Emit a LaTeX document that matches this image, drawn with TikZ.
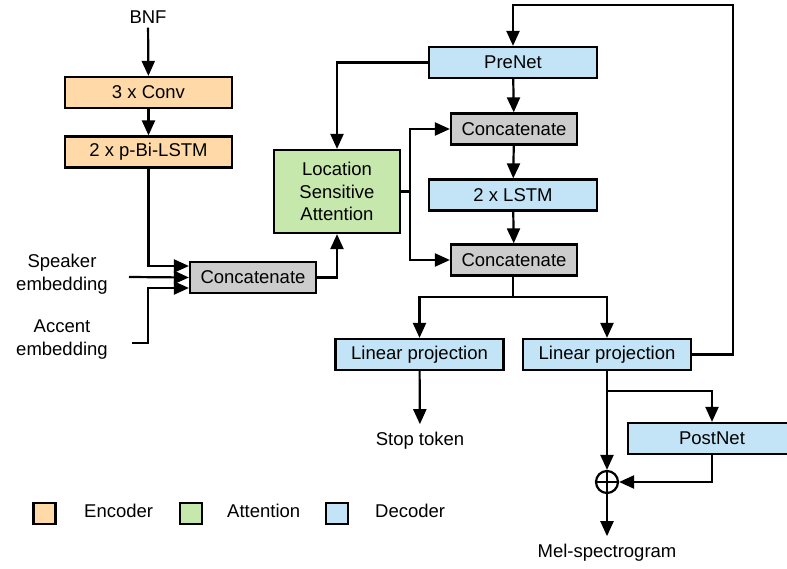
\documentclass[tikz,border=0pt]{standalone}
\usepackage{fontspec}
\setmainfont{Liberation Sans}
\usetikzlibrary{arrows.meta}
\definecolor{encC}{RGB}{255,218,168}
\definecolor{attC}{RGB}{199,232,172}
\definecolor{decC}{RGB}{194,228,246}
\definecolor{catC}{RGB}{204,204,204}
\tikzset{
  box/.style={draw, line width=2.2pt, inner sep=0pt, align=center, font=\fontsize{18.5}{22.5}\selectfont},
  enc/.style={box, fill=encC, minimum width=167pt, minimum height=31pt},
  dec/.style={box, fill=decC, minimum width=168pt, minimum height=31pt},
  cat/.style={box, fill=catC, minimum width=126pt, minimum height=31pt},
  att/.style={box, fill=attC, minimum width=126pt, minimum height=83pt},
  lbl/.style={inner sep=4pt, align=center, font=\fontsize{18.5}{23}\selectfont},
  legbox/.style={draw, line width=2.2pt, minimum width=22pt, minimum height=21pt, inner sep=0pt},
  arr/.style={line width=2.2pt, -{Triangle[length=15pt,width=13pt]}},
  ln/.style={line width=2.2pt}
}
\begin{document}
\begin{tikzpicture}[x=1pt,y=-1pt]
\useasboundingbox (0,0) rectangle (787,569);
% nodes
\node[lbl] (bnf) at (148,17) {BNF};
\node[enc] (conv) at (148.5,92.5) {3 x Conv};
\node[enc] (blstm) at (148.5,152) {2 x p-Bi-LSTM};
\node[cat] (catA) at (253,277.5) {Concatenate};
\node[att] (att) at (337,191.5) {Location\\Sensitive\\Attention};
\node[dec] (prenet) at (513,62.5) {PreNet};
\node[cat] (cat2) at (514,129) {Concatenate};
\node[dec] (lstm2) at (513,195) {2 x LSTM};
\node[cat] (cat3) at (514,260) {Concatenate};
\node[dec] (lp1) at (419.5,354.5) {Linear projection};
\node[dec] (lp2) at (607,354.5) {Linear projection};
\node[dec] (postnet) at (712,438.5) {PostNet};
\node[circle, draw, line width=2.2pt, minimum size=22pt, inner sep=0pt] (plus) at (607,482) {};
\draw[ln] (plus.north) -- (plus.south) (plus.west) -- (plus.east);
\node[lbl] (spk) at (62,274) {Speaker\\embedding};
\node[lbl] (acc) at (62,340) {Accent\\embedding};
\node[lbl, inner sep=8pt] (stop) at (420,441) {Stop token};
\node[lbl, inner sep=8pt] (mel) at (607,553) {Mel-spectrogram};
% coordinates
\coordinate (spkS) at (129,277);
\coordinate (accS) at (132,343);
\coordinate (split) at (513,297);
\coordinate (fbR) at (733,5);
\coordinate (br) at (607,391);
% encoder connectors
\draw[arr] (bnf) -- (conv);
\draw[arr] (conv) -- (blstm);
\draw[arr] (blstm.south) |- ([yshift=11.5pt]catA.west);
\draw[arr] (spkS) -- (catA.west);
\draw[arr] (accS) -- (148,343) |- ([yshift=-10.5pt]catA.west);
\draw[arr] (catA.east) -| (att.south);
% attention / decoder
\draw[arr] (prenet.west) -| (att.north);
\draw[arr] (att.east) -- ++(9,0) |- (cat2.west);
\draw[arr] (att.east) -- ++(9,0) |- (cat3.west);
\draw[arr] (prenet) -- (cat2);
\draw[arr] (cat2) -- (lstm2);
\draw[arr] (lstm2) -- (cat3);
\draw[ln] (cat3.south -| split) -- (split);
\draw[arr] (split) -| (lp1.north);
\draw[arr] (split) -| (lp2.north);
\draw[arr] (lp2.east) -| (fbR) -| (prenet.north);
\draw[arr] (lp1) -- (stop);
\draw[arr] (lp2) -- (plus);
\draw[arr] (br) -| (postnet.north);
\draw[arr] (postnet.south) |- (plus.east);
\draw[arr] (plus) -- (mel);
% legend
\node[legbox, fill=encC] (lg1) at (44.5,513.5) {};
\node[lbl, anchor=west, inner sep=0pt] (lt1) at (84,511) {Encoder};
\node[legbox, fill=attC] (lg2) at (191,513.5) {};
\node[lbl, anchor=west, inner sep=0pt] (lt2) at (227,511) {Attention};
\node[legbox, fill=decC] (lg3) at (337,513.5) {};
\node[lbl, anchor=west, inner sep=0pt] (lt3) at (375,511) {Decoder};
\end{tikzpicture}
\end{document}
